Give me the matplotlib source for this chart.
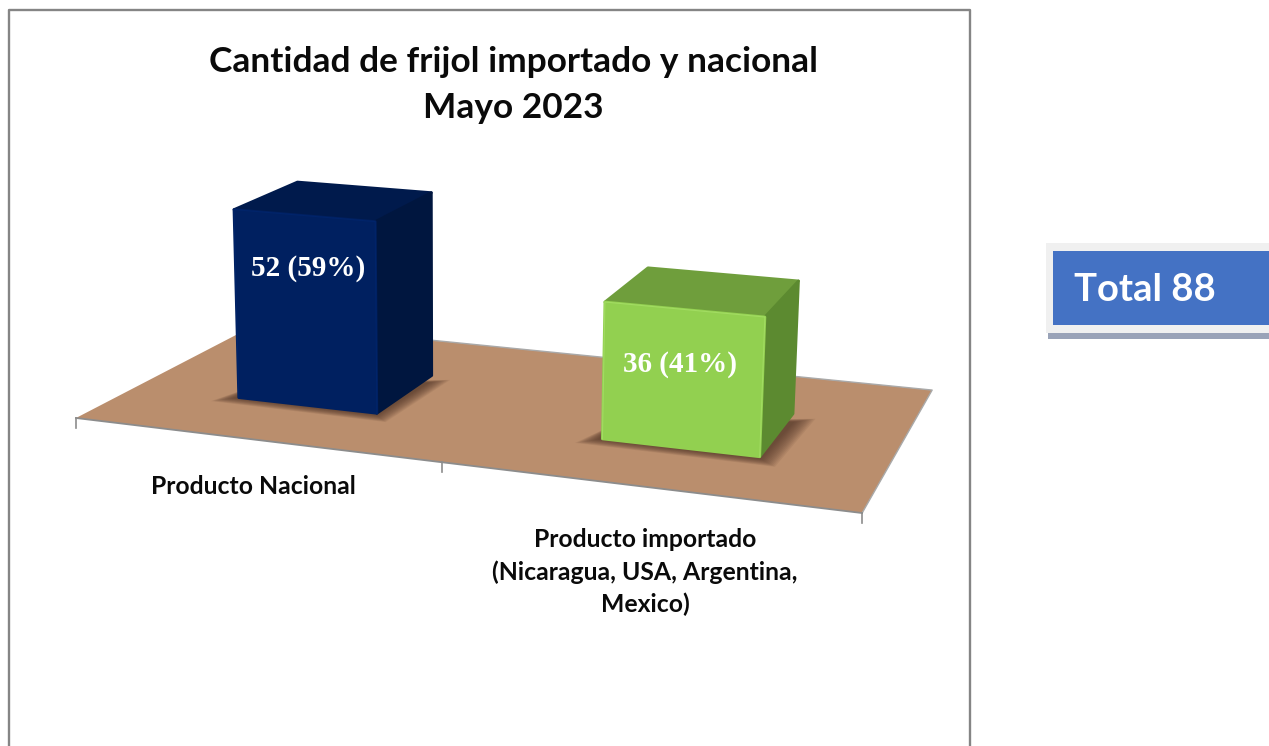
import matplotlib
matplotlib.use("Agg")
import matplotlib.pyplot as plt
import numpy as np

# ---- data ----
categories = ["Producto Nacional", "Producto importado\n(Nicaragua, USA, Argentina,\nMexico)"]
values = [52, 36]
title_lines = "Cantidad de frijol importado y nacional\nMayo 2023"

# ---- style / layout ----
front_colors = ["#002060", "#92D050"]
top_colors = ["#001A4C", "#6F9E3C"]
side_colors = ["#00163F", "#5C8A30"]
edge_light = ["#00246A", "#A2DC62"]
floor_color = "#BA8E6D"
bar_centers = [0.50, 1.5]
bar_width = 0.395
depth_near, depth_far = 0.30, 0.665
label_offsets = [(3, -38), (-3, -40)]

W, H = 1269, 746
fig = plt.figure(figsize=(W / 100, H / 100), dpi=100, facecolor="white")
ax = fig.add_axes([0, 0, 1, 1])
ax.set_xlim(0, W)
ax.set_ylim(H, 0)
ax.axis("off")

# floor homography (category axis u = x/2, depth v)
def floor(x, d):
    u = np.asarray(x) / 2.0
    v = np.asarray(d)
    w = -0.1289 * u + 0.1813 * v + 1
    return (675 * u + 230 * v + 76) / w, (28.9 * u - 36.4 * v + 418) / w

def project(x, d, value):
    bx, by = floor(x, d)
    h = value * (3.5 + (by - 372) * 0.0045)
    return bx + (bx - 450) * 1.2e-4 * h, by - h

def pts(func, corners):
    return list(zip(*[func(*c) for c in corners]))

# floor
fx, fy = pts(floor, [(0, 0), (2, 0), (2, 1), (0, 1)])
ax.fill(fx, fy, color=floor_color, lw=0, zorder=1)
ax.plot([fx[1], fx[2], fx[3]], [fy[1], fy[2], fy[3]], color="#A9A9A9", lw=1, zorder=1.1)
ax.plot([fx[0], fx[1]], [fy[0], fy[1]], color="#8C8C8C", lw=1.3, zorder=1.2)
for t in [0, 1, 2]:
    tx, ty = floor(t, 0)
    ax.plot([tx, tx], [ty, ty + 10], color="#8C8C8C", lw=1.2, zorder=1.2)

# bars
for i, (c, val) in enumerate(zip(bar_centers, values)):
    x0, x1 = c - bar_width / 2, c + bar_width / 2
    # soft contact shadow
    for k in range(12):
        g = 0.004 * (12 - k)
        sx, sy = pts(floor, [(x0 - 0.005 - g, depth_near - 0.005 - g),
                             (x1 + 0.003 + g, depth_near - 0.012 - g),
                             (x1 + 0.015 + g, depth_far - 0.07 + g),
                             (x0, depth_near + 0.15)])
        ax.fill(sx, sy, color="#4A3022", alpha=0.085, lw=0, zorder=2)
    # faces
    front = [(x0, depth_near, 0), (x1, depth_near, 0), (x1, depth_near, val), (x0, depth_near, val)]
    side = [(x1, depth_near, 0), (x1, depth_far, 0), (x1, depth_far, val), (x1, depth_near, val)]
    top = [(x0, depth_near, val), (x1, depth_near, val), (x1, depth_far, val), (x0, depth_far, val)]
    for face, col in ((top, top_colors[i]), (side, side_colors[i]), (front, front_colors[i])):
        px, py = pts(project, face)
        ax.fill(px, py, facecolor=col, edgecolor=col, lw=2, joinstyle="round", zorder=3)
    # light bevel on the front edges
    ex, ey = pts(project, [(x0, depth_near, 0), (x0, depth_near, val), (x1, depth_near, val), (x1, depth_near, 0)])
    ax.plot(ex, ey, color=edge_light[i], lw=0.8, solid_joinstyle="round", zorder=3.5)
    # value label
    ux, uy = project(c, depth_near, val)
    pct = round(100 * val / sum(values))
    ax.annotate(f"{val} ({pct}%)", (ux, uy), xytext=label_offsets[i], textcoords="offset points",
                ha="center", va="center", color="white", fontsize=21,
                family="Liberation Serif", fontweight="bold", zorder=4)

# chart frame (runs off the bottom edge)
ax.plot([9, 9, 970, 970], [H + 5, 9.5, 9.5, H + 5], color="#858585", lw=1.7, zorder=5, clip_on=True)

# titles and category labels
ax.text(513.5, 85, title_lines, ha="center", va="center", fontsize=25.4, family="Lato",
        fontweight="bold", color="#0A0A0A", linespacing=1.5, zorder=6)
ax.text(253, 487, categories[0], ha="center", va="center", fontsize=17.8, family="Lato",
        fontweight="bold", color="#0A0A0A", zorder=6)
ax.text(645, 572, categories[1], ha="center", va="center", fontsize=17.8, family="Lato",
        fontweight="bold", color="#0A0A0A", linespacing=1.44, zorder=6)

# total box
ax.fill_between([1048, W], 333, 338.5, color="#9AA3B8", lw=0, zorder=1)
ax.fill_between([1046, W], 243, 333, color="#F0F0F0", lw=0, zorder=2)
ax.fill_between([1053, W], 251, 325, color="#4472C4", lw=0, zorder=3)
ax.text(1074, 290, f"Total {sum(values)}", ha="left", va="center", fontsize=27.5, family="Lato",
        fontweight="bold", color="white", zorder=4)

fig.savefig("out.png", dpi=100, facecolor="white")
